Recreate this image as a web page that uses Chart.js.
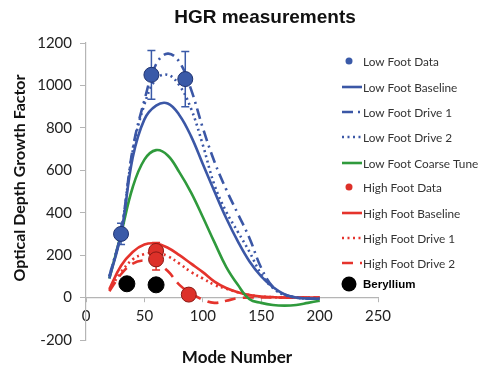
<!DOCTYPE html>
<html>
<head>
<meta charset="utf-8">
<script src="https://cdn.jsdelivr.net/npm/chart.js@4"></script>
<style>
  html, body { margin: 0; padding: 0; background: #fff; }
  #wrap { width: 482px; height: 373px; position: relative; }
</style>
</head>
<body>
<div id="wrap"><canvas id="hgrChart" width="482" height="373"></canvas></div>
<script>
// mode numbers used by the model curves
const modeX = [20, 30, 40, 50, 60, 70, 80, 90, 100, 110, 120, 130, 140, 150, 160, 170, 180, 190, 200];

const lowBaseline = [90, 300, 660, 840, 905, 915, 860, 760, 630, 500, 375, 265, 170, 100, 50, 15, 0, -5, -5];
const lowDrive1   = [100, 310, 700, 930, 1100, 1150, 1110, 980, 800, 640, 510, 395, 280, 140, 50, 15, 0, -5, -5];
const lowDrive2   = [100, 310, 690, 910, 1030, 1050, 1000, 890, 720, 530, 405, 310, 215, 110, 45, 12, 0, -5, -5];
const lowCoarse   = [90, 300, 520, 650, 695, 670, 590, 495, 380, 260, 145, 60, -8, -25, -35, -38, -35, -25, -15];
const highBaseline = [40, 150, 215, 250, 255, 235, 200, 160, 120, 75, 45, 25, 12, 5, 2, 0, 0, 0, 0];
const highDrive1   = [35, 120, 180, 205, 210, 195, 160, 120, 90, 60, 42, 25, 12, 5, 2, 0, 0, 0, 0];
const highDrive2   = [30, 110, 160, 175, 165, 125, 60, 20, -10, -25, -15, -3, 0, 0, 0, 0, 0, 0, 0];

// measured points
const lowDataX = [30, 56, 85];
const lowDataY = [300, 1050, 1030];
const lowDataErr = [50, 115, 130];
const highDataX = [60, 60, 88];
const highDataY = [220, 180, 14];
const highDataErr = [40, 50, 0];
const berylX = [35, 60];
const berylY = [65, 60];

const xTicks = [0, 50, 100, 150, 200, 250];
const yTicks = [-200, 0, 200, 400, 600, 800, 1000, 1200];

const BLUE = '#3b57a6';
const GREEN = '#2f9a3c';
const RED = '#e5332c';

function pts(xs, ys) {
    return xs.map((x, i) => ({ x: x, y: ys[i] }));
}

function curve(label, ys, color, dash) {
    return {
        label: label,
        data: pts(modeX, ys),
        showLine: true,
        borderColor: color,
        backgroundColor: color,
        borderWidth: 2.6,
        borderDash: dash,
        pointRadius: 0,
        tension: 0.4,
        legendKind: 'line'
    };
}

function marks(label, xs, ys, fill, border, r, errs) {
    return {
        label: label,
        data: pts(xs, ys),
        showLine: false,
        pointRadius: r,
        pointBackgroundColor: fill,
        pointBorderColor: border,
        pointBorderWidth: 1,
        errs: errs,
        errColor: fill,
        legendKind: 'point'
    };
}

const datasets = [
    marks('Low Foot Data', lowDataX, lowDataY, '#3a5aa8', '#1e3270', 7.5, lowDataErr),
    marks('High Foot Data', highDataX, highDataY, '#dd3029', '#8a1a15', 7.5, highDataErr),
    marks('Beryllium', berylX, berylY, '#000000', '#000000', 8, null),
    curve('Low Foot Baseline', lowBaseline, BLUE, []),
    curve('Low Foot Drive 1', lowDrive1, BLUE, [11, 5, 2, 5]),
    curve('Low Foot Drive 2', lowDrive2, BLUE, [2, 3.5]),
    curve('Low Foot Coarse Tune', lowCoarse, GREEN, []),
    curve('High Foot Baseline', highBaseline, RED, []),
    curve('High Foot Drive 1', highDrive1, RED, [2, 3.5]),
    curve('High Foot Drive 2', highDrive2, RED, [11, 7])
];

// legend entries in the order of the picture
const legendOrder = ['Low Foot Data', 'Low Foot Baseline', 'Low Foot Drive 1', 'Low Foot Drive 2',
    'Low Foot Coarse Tune', 'High Foot Data', 'High Foot Baseline', 'High Foot Drive 1',
    'High Foot Drive 2', 'Beryllium'];
const legendY = [61, 87, 112, 137, 163, 187, 213, 238, 263, 284];

const errorBars = {
    id: 'errorBars',
    beforeDatasetsDraw(chart) {
        const ctx = chart.ctx;
        const xs = chart.scales.x, ys = chart.scales.y;
        chart.data.datasets.forEach(ds => {
            if (!ds.errs) return;
            ctx.save();
            ctx.strokeStyle = ds.errColor;
            ctx.lineWidth = 1.5;
            ds.data.forEach((p, i) => {
                const e = ds.errs[i];
                if (!e) return;
                const px = xs.getPixelForValue(p.x);
                const top = ys.getPixelForValue(p.y + e);
                const bot = ys.getPixelForValue(p.y - e);
                ctx.beginPath();
                ctx.moveTo(px, top); ctx.lineTo(px, bot);
                ctx.moveTo(px - 4, top); ctx.lineTo(px + 4, top);
                ctx.moveTo(px - 4, bot); ctx.lineTo(px + 4, bot);
                ctx.stroke();
            });
            ctx.restore();
        });
    }
};

const decorations = {
    id: 'decorations',
    afterDraw(chart) {
        const ctx = chart.ctx;
        ctx.save();
        ctx.fillStyle = '#111';
        ctx.textAlign = 'center';
        ctx.textBaseline = 'middle';
        ctx.font = 'bold 19px "Liberation Sans", Arial, sans-serif';
        ctx.fillText('HGR measurements', 265, 18);

        ctx.font = 'bold 17px Lato, sans-serif';
        ctx.fillText('Mode Number', 237, 358);

        ctx.save();
        ctx.translate(20, 178);
        ctx.rotate(-Math.PI / 2);
        ctx.font = 'bold 16px Lato, sans-serif';
        ctx.fillText('Optical Depth Growth Factor', 0, 0);
        ctx.restore();

        // legend
        legendOrder.forEach((name, i) => {
            const ds = chart.data.datasets.find(d => d.label === name);
            const y = legendY[i];
            if (ds.legendKind === 'line') {
                ctx.save();
                ctx.strokeStyle = ds.borderColor;
                ctx.lineWidth = 2.6;
                ctx.setLineDash(ds.borderDash);
                ctx.beginPath();
                ctx.moveTo(342, y); ctx.lineTo(362, y);
                ctx.stroke();
                ctx.restore();
            } else {
                const r = name === 'Beryllium' ? 7.5 : 3.5;
                ctx.beginPath();
                ctx.arc(349, y, r, 0, Math.PI * 2);
                ctx.fillStyle = ds.pointBackgroundColor;
                ctx.fill();
            }
            ctx.textAlign = 'left';
            if (name === 'Beryllium') {
                ctx.fillStyle = '#000';
                ctx.font = 'bold 11.5px "Liberation Sans", Arial, sans-serif';
            } else {
                ctx.fillStyle = '#333';
                ctx.font = '11.8px Lato, sans-serif';
            }
            ctx.fillText(name, 363, y + 1);
        });
        ctx.restore();
    }
};

new Chart(document.getElementById('hgrChart').getContext('2d'), {
    type: 'scatter',
    data: { datasets: datasets },
    options: {
        responsive: false,
        animation: false,
        layout: { padding: { left: 30, top: 43, right: 104, bottom: 33 } },
        plugins: {
            legend: { display: false },
            title: { display: false },
            tooltip: { enabled: false }
        },
        scales: {
            x: {
                type: 'linear',
                min: 0,
                max: 250,
                position: { y: 0 },
                afterBuildTicks: s => { s.ticks = xTicks.map(v => ({ value: v })); },
                ticks: { color: '#222', font: { family: 'Lato', size: 15 }, padding: 6, callback: v => String(v) },
                grid: { drawOnChartArea: false, drawTicks: true, tickLength: 4, color: '#b5b5b5' },
                border: { display: true, color: '#b5b5b5', width: 1.2 }
            },
            y: {
                min: -200,
                max: 1200,
                afterFit: s => { s.width = 56; },
                afterBuildTicks: s => { s.ticks = yTicks.map(v => ({ value: v })); },
                ticks: { color: '#222', font: { family: 'Lato', size: 15 }, padding: 8, callback: v => String(v) },
                grid: { drawOnChartArea: false, drawTicks: true, tickLength: 6, color: '#b5b5b5' },
                border: { display: true, color: '#b5b5b5', width: 1.2 }
            }
        }
    },
    plugins: [errorBars, decorations]
});
</script>
</body>
</html>
